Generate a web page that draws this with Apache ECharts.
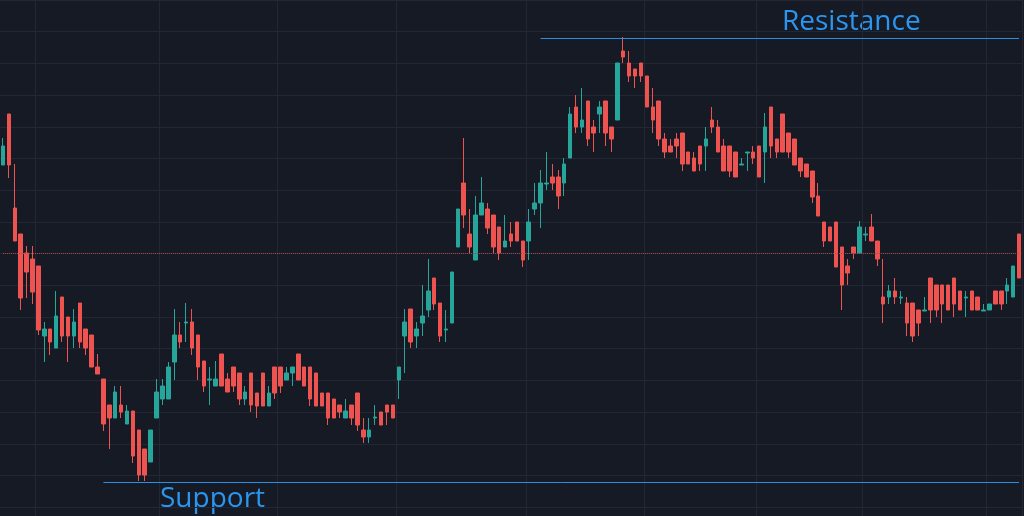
<!DOCTYPE html>
<html>
<head>
<meta charset="utf-8">
<script src="https://cdn.jsdelivr.net/npm/echarts@6/dist/echarts.min.js"></script>
<style>
html, body { margin: 0; padding: 0; background: #161a25; }
#chart { width: 1024px; height: 516px; }
</style>
</head>
<body>
<div id="chart"></div>
<script>
// price levels, in chart units (axis runs top -> bottom)
var opens = [165,114,208,234,253,259,266,336,329,348,297,317,336,303,329,335,367,379,405,418,405,424,411,430,449,462,418,399,399,362,335,323,322,335,361,380,386,354,379,367,373,399,373,393,373,406,367,367,380,373,354,367,367,373,393,393,399,405,418,405,393,430,437,418,412,405,405,380,336,309,336,323,310,278,303,330,323,247,183,234,260,215,209,215,227,247,234,222,241,241,209,203,184,177,177,183,158,107,127,101,127,114,101,127,120,51,63,69,63,76,107,101,139,146,139,133,152,158,146,146,120,127,146,146,152,165,153,152,146,152,107,139,114,133,139,158,164,171,196,222,227,222,247,266,247,253,235,227,241,297,297,291,298,303,303,310,311,278,285,285,285,278,291,298,291,297,311,310,291,291,291,297,234];
var closes = [146,165,241,298,272,292,330,329,342,316,336,336,322,342,348,367,374,424,418,392,412,411,456,475,475,430,392,386,367,335,342,322,348,367,386,379,379,386,392,386,399,392,405,406,406,393,393,386,373,367,380,386,399,406,406,418,418,412,411,418,425,437,430,417,425,412,418,367,322,342,329,316,291,304,336,329,272,209,215,247,215,203,228,247,253,241,241,241,260,222,203,183,183,183,196,164,114,127,120,139,133,107,133,139,63,57,76,76,76,107,120,139,152,152,146,164,164,171,164,139,127,152,171,171,177,164,152,158,177,127,146,152,152,152,165,171,177,197,216,241,241,267,285,273,253,227,234,241,259,304,291,297,297,323,336,323,310,310,310,304,310,304,310,297,310,310,310,304,304,304,285,266,278];
var tops = [138,114,164,234,246,246,266,322,329,291,297,317,309,303,329,335,354,379,405,386,386,405,411,430,449,430,379,379,362,309,322,303,309,335,361,367,361,354,373,367,373,386,373,393,373,386,367,367,367,367,354,367,367,373,393,393,399,405,399,405,393,418,418,405,412,405,405,367,309,309,322,285,259,278,303,310,272,209,138,209,196,177,203,215,227,215,222,222,241,209,183,170,152,164,170,158,107,95,88,101,120,101,101,127,63,37,51,69,63,76,88,101,133,139,133,133,152,152,146,127,107,120,139,146,152,158,152,146,146,113,107,139,114,133,139,158,164,171,183,222,227,222,247,259,247,221,227,214,241,259,285,278,291,297,303,310,297,278,285,285,285,278,291,291,291,297,304,304,291,291,278,266,234];
var bottoms = [165,178,241,310,298,304,335,362,355,348,342,362,348,348,355,367,374,431,449,418,418,424,463,481,481,462,418,405,399,380,348,342,355,380,392,405,386,386,392,392,405,405,412,418,406,406,399,393,380,386,380,386,406,406,406,425,418,418,418,425,431,443,443,425,425,425,418,399,373,348,348,336,317,310,342,342,323,247,228,253,260,215,234,253,260,247,247,241,267,260,215,228,190,190,209,196,158,133,133,146,152,133,146,152,120,63,82,88,82,107,133,146,158,152,158,171,164,171,171,171,133,152,171,177,177,165,171,164,177,183,158,158,152,158,165,177,177,203,216,247,241,267,310,285,259,253,241,241,266,323,304,304,304,336,342,336,311,323,317,323,310,317,310,317,310,310,311,310,304,310,304,297,278];

var lastLevel = 253;
var supportLevel = 482;
var resistanceLevel = 38;
var supportStart = 17;
var resistanceStart = 91;

var categories = [];
var candles = [];
for (var i = 0; i < opens.length; i++) {
    categories.push(String(i));
    candles.push([opens[i], closes[i], tops[i], bottoms[i]]);
}
var lastIdx = opens.length - 1;
var vLines = [6, 27, 47, 67, 89, 109, 128, 146, 167];

var chart = echarts.init(document.getElementById('chart'));
chart.setOption({
    backgroundColor: '#161a25',
    animation: false,
    grid: { left: 0, right: 2, top: 0, bottom: 0 },
    xAxis: {
        type: 'category',
        data: categories,
        boundaryGap: true,
        axisLine: { show: false },
        axisTick: { show: false },
        axisLabel: { show: false },
        splitLine: {
            show: true,
            interval: function (idx) { return vLines.indexOf(idx) >= 0; },
            lineStyle: { color: '#232734', width: 1 }
        }
    },
    yAxis: [
        {
            type: 'value', inverse: true, min: 0, max: 516,
            axisLine: { show: false }, axisTick: { show: false },
            axisLabel: { show: false }, splitLine: { show: false }
        },
        {
            // grid-only axis
            type: 'value', inverse: true, min: 25, max: 541, interval: 31.7,
            axisLine: { show: false }, axisTick: { show: false },
            axisLabel: { show: false },
            splitLine: { show: true, lineStyle: { color: '#232734', width: 1 } }
        }
    ],
    series: [{
        type: 'candlestick',
        yAxisIndex: 0,
        data: candles,
        barWidth: 4,
        itemStyle: {
            color: '#ef5350', color0: '#26a69a',
            borderColor: '#ef5350', borderColor0: '#26a69a', borderWidth: 1
        },
        markLine: {
            silent: true,
            symbol: ['none', 'none'],
            label: { show: false },
            data: [
                [{ coord: [0, lastLevel], lineStyle: { color: '#b04848', type: 'dotted', width: 1 } }, { coord: [lastIdx, lastLevel] }],
                [{ coord: [supportStart, supportLevel], lineStyle: { color: '#2a8ee6', type: 'solid', width: 1 } }, { coord: [lastIdx, supportLevel] }],
                [{ coord: [resistanceStart, resistanceLevel], lineStyle: { color: '#2a8ee6', type: 'solid', width: 1 } }, { coord: [lastIdx, resistanceLevel] }]
            ]
        }
    }],
    graphic: [
        { type: 'text', left: 782, top: 8, style: { text: 'Resistance', fill: '#2a96f0', font: '28px "Open Sans", sans-serif' } },
        { type: 'text', left: 160, top: 485, style: { text: 'Support', fill: '#2a96f0', font: '28px "Open Sans", sans-serif' } }
    ]
});
</script>
</body>
</html>
